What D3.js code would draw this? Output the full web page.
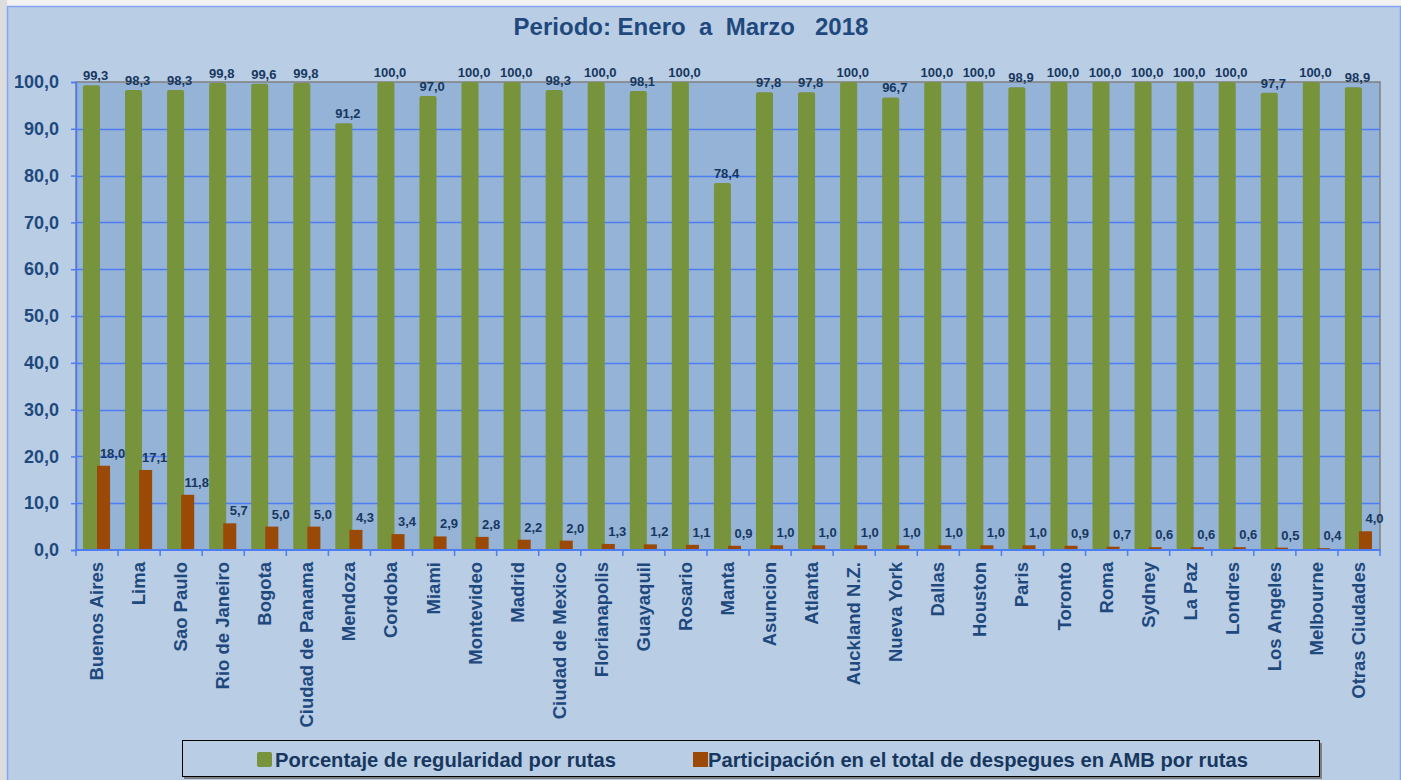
<!DOCTYPE html>
<html>
<head>
<meta charset="utf-8">
<script src="https://cdn.jsdelivr.net/npm/d3@7"></script>
<style>
  body { margin: 0; background: #f2f2f2; }
  svg { display: block; font-family: "Liberation Sans", Arial, sans-serif; font-weight: bold; }
</style>
</head>
<body>
<div id="chart"></div>
<script>
const CITIES = ["Buenos Aires", "Lima", "Sao Paulo", "Rio de Janeiro", "Bogota", "Ciudad de Panama", "Mendoza", "Cordoba", "Miami", "Montevideo", "Madrid", "Ciudad de Mexico", "Florianapolis", "Guayaquil", "Rosario", "Manta", "Asuncion", "Atlanta", "Auckland N.Z.", "Nueva York", "Dallas", "Houston", "Paris", "Toronto", "Roma", "Sydney", "La Paz", "Londres", "Los Angeles", "Melbourne", "Otras Ciudades"];
const REGULARIDAD = [99.3, 98.3, 98.3, 99.8, 99.6, 99.8, 91.2, 100.0, 97.0, 100.0, 100.0, 98.3, 100.0, 98.1, 100.0, 78.4, 97.8, 97.8, 100.0, 96.7, 100.0, 100.0, 98.9, 100.0, 100.0, 100.0, 100.0, 100.0, 97.7, 100.0, 98.9];
const PARTICIPACION = [18.0, 17.1, 11.8, 5.7, 5.0, 5.0, 4.3, 3.4, 2.9, 2.8, 2.2, 2.0, 1.3, 1.2, 1.1, 0.9, 1.0, 1.0, 1.0, 1.0, 1.0, 1.0, 1.0, 0.9, 0.7, 0.6, 0.6, 0.6, 0.5, 0.4, 4.0];
const Y_TICKS = [0, 10, 20, 30, 40, 50, 60, 70, 80, 90, 100];
const SERIES_NAMES = ["Porcentaje de regularidad por rutas", "Participación en el total de despegues en AMB por rutas"];

const W = 1401, H = 780;
const plot = { left: 76, right: 1380, top: 82, bottom: 550 };
const green = "#77933c", brown = "#9a4a06";
const navy = "#1f497d", labelNavy = "#17375e";
const fmt = v => v.toFixed(1).replace(".", ",");

const svg = d3.select("#chart").append("svg")
  .attr("width", W)
  .attr("height", H);

// page strips + chart background
svg.append("rect").attr("x", 0).attr("y", 0).attr("width", 7).attr("height", H).attr("fill", "#dcdcdc");
svg.append("rect")
  .attr("x", 7.5).attr("y", 6.5).attr("width", W - 8).attr("height", H)
  .attr("fill", "#b9cde5").attr("stroke", "#86a2f2").attr("stroke-width", 1.5);

// scales
const x = d3.scaleBand().domain(CITIES).range([plot.left, plot.right]).padding(0);
const y = d3.scaleLinear().domain([0, 100]).range([plot.bottom, plot.top]);
const bw = x.bandwidth();

// plot area
svg.append("rect")
  .attr("x", plot.left).attr("y", plot.top)
  .attr("width", plot.right - plot.left).attr("height", plot.bottom - plot.top)
  .attr("fill", "#95b3d7").attr("stroke", "#808080").attr("stroke-width", 1.5);

// gridlines
svg.append("g").selectAll("line")
  .data(Y_TICKS.filter(t => t > 0 && t < 100))
  .join("line")
  .attr("x1", plot.left).attr("x2", plot.right)
  .attr("y1", d => Math.round(y(d)) + 0.5).attr("y2", d => Math.round(y(d)) + 0.5)
  .attr("stroke", "#4d7cf3").attr("stroke-width", 1.5);

// bars
svg.append("g").selectAll("rect")
  .data(REGULARIDAD)
  .join("rect")
  .attr("x", (d, i) => x(CITIES[i]) + bw * 0.165)
  .attr("width", bw * 0.405)
  .attr("y", d => y(d))
  .attr("height", d => y(0) - y(d))
  .attr("rx", 2)
  .attr("fill", green);

svg.append("g").selectAll("rect")
  .data(PARTICIPACION)
  .join("rect")
  .attr("x", (d, i) => x(CITIES[i]) + bw * 0.5)
  .attr("width", bw * 0.31)
  .attr("y", d => y(d))
  .attr("height", d => y(0) - y(d))
  .attr("fill", brown);

// axes
const yAxis = svg.append("g")
  .attr("transform", `translate(${plot.left},0)`)
  .call(d3.axisLeft(y).tickValues(Y_TICKS).tickSize(5).tickPadding(12).tickFormat(fmt));
yAxis.select(".domain").attr("stroke", "#4d7cf3").attr("stroke-width", 1.5);
yAxis.selectAll(".tick line").attr("stroke", "#4d7cf3").attr("stroke-width", 1.5);
yAxis.selectAll("text")
  .attr("fill", navy).attr("font-size", 18).attr("font-weight", "bold")
  .attr("font-family", "Liberation Sans, Arial, sans-serif");

const xAxis = svg.append("g").attr("transform", `translate(0,${plot.bottom})`);
xAxis.append("line")
  .attr("x1", plot.left).attr("x2", plot.right)
  .attr("stroke", "#4d7cf3").attr("stroke-width", 2);
xAxis.selectAll("line.tk")
  .data(d3.range(CITIES.length + 1))
  .join("line").attr("class", "tk")
  .attr("x1", i => plot.left + i * bw).attr("x2", i => plot.left + i * bw)
  .attr("y1", 0).attr("y2", 6)
  .attr("stroke", "#4d7cf3").attr("stroke-width", 1.5);
xAxis.selectAll("text")
  .data(CITIES)
  .join("text")
  .attr("transform", d => `translate(${x(d) + bw / 2 + 6},12) rotate(-90)`)
  .attr("text-anchor", "end")
  .attr("font-size", 18.5)
  .attr("fill", navy)
  .text(d => d);

// value labels
svg.append("g").selectAll("text")
  .data(REGULARIDAD)
  .join("text")
  .attr("x", (d, i) => x(CITIES[i]) + bw * 0.37 + 4)
  .attr("y", d => y(d) - 5)
  .attr("text-anchor", "middle")
  .attr("font-size", 13)
  .attr("fill", labelNavy)
  .text(fmt);

svg.append("g").selectAll("text")
  .data(PARTICIPACION)
  .join("text")
  .attr("x", (d, i) => x(CITIES[i]) + bw * 0.655 + 9)
  .attr("y", d => y(d) - 8)
  .attr("text-anchor", "middle")
  .attr("font-size", 13)
  .attr("fill", labelNavy)
  .text(fmt);

// title
svg.append("text")
  .attr("x", 691).attr("y", 35)
  .attr("text-anchor", "middle")
  .attr("font-size", 24)
  .attr("fill", navy)
  .style("white-space", "pre")
  .text("Periodo: Enero  a  Marzo   2018");

// legend
const lg = svg.append("g");
lg.append("rect").attr("x", 184).attr("y", 743).attr("width", 1138).attr("height", 36).attr("fill", "#7f7f7f");
lg.append("rect").attr("x", 182.5).attr("y", 740.5).attr("width", 1137).attr("height", 36)
  .attr("fill", "#b9cde5").attr("stroke", "#000").attr("stroke-width", 1);
const items = [{ sx: 257, tx: 275, c: green, r: 2 }, { sx: 693, tx: 708, c: brown, r: 0 }];
items.forEach((it, i) => {
  lg.append("rect").attr("x", it.sx).attr("y", 752).attr("width", 15).attr("height", 15)
    .attr("rx", it.r).attr("fill", it.c);
  lg.append("text").attr("x", it.tx).attr("y", 767)
    .attr("font-size", 20.2).attr("fill", labelNavy)
    .text(SERIES_NAMES[i]);
});
</script>
</body>
</html>
